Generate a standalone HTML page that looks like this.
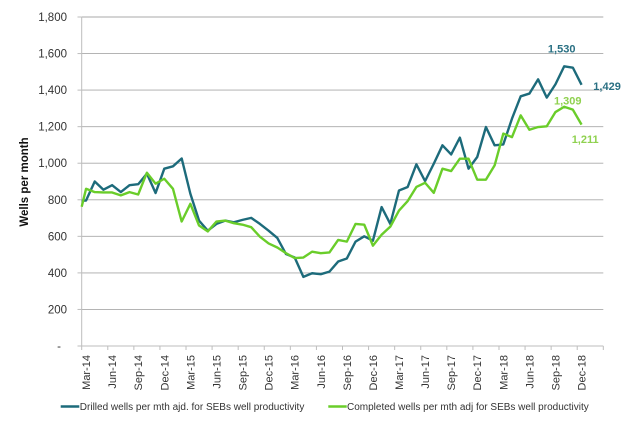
<!DOCTYPE html>
<html><head><meta charset="utf-8"><style>
html,body{margin:0;padding:0;background:#fff;}
svg{display:block;font-family:"Liberation Sans",Arial,sans-serif;}
</style></head><body>
<svg width="641" height="432" viewBox="0 0 641 432" xmlns="http://www.w3.org/2000/svg">
<rect x="0" y="0" width="641" height="432" fill="#fff"/>
<g stroke="#a9a9a9" stroke-width="0.9">
<line x1="81.7" x2="603.3" y1="17" y2="17"/>
<line x1="81.7" x2="603.3" y1="53.56" y2="53.56"/>
<line x1="81.7" x2="603.3" y1="90.11" y2="90.11"/>
<line x1="81.7" x2="603.3" y1="126.67" y2="126.67"/>
<line x1="81.7" x2="603.3" y1="163.22" y2="163.22"/>
<line x1="81.7" x2="603.3" y1="199.78" y2="199.78"/>
<line x1="81.7" x2="603.3" y1="236.33" y2="236.33"/>
<line x1="81.7" x2="603.3" y1="272.89" y2="272.89"/>
<line x1="81.7" x2="603.3" y1="309.44" y2="309.44"/>
</g>
<g stroke="#bdbdbd" stroke-width="1">
<line x1="81.7" x2="81.7" y1="17" y2="346"/>
<line x1="81.7" x2="603.3" y1="346" y2="346"/>
<line x1="77.5" x2="81.7" y1="17" y2="17"/>
<line x1="77.5" x2="81.7" y1="53.56" y2="53.56"/>
<line x1="77.5" x2="81.7" y1="90.11" y2="90.11"/>
<line x1="77.5" x2="81.7" y1="126.67" y2="126.67"/>
<line x1="77.5" x2="81.7" y1="163.22" y2="163.22"/>
<line x1="77.5" x2="81.7" y1="199.78" y2="199.78"/>
<line x1="77.5" x2="81.7" y1="236.33" y2="236.33"/>
<line x1="77.5" x2="81.7" y1="272.89" y2="272.89"/>
<line x1="77.5" x2="81.7" y1="309.44" y2="309.44"/>
<line x1="77.5" x2="81.7" y1="346" y2="346"/>
<line x1="81.7" x2="81.7" y1="346" y2="350"/>
<line x1="107.78" x2="107.78" y1="346" y2="350"/>
<line x1="133.86" x2="133.86" y1="346" y2="350"/>
<line x1="159.94" x2="159.94" y1="346" y2="350"/>
<line x1="186.02" x2="186.02" y1="346" y2="350"/>
<line x1="212.1" x2="212.1" y1="346" y2="350"/>
<line x1="238.18" x2="238.18" y1="346" y2="350"/>
<line x1="264.26" x2="264.26" y1="346" y2="350"/>
<line x1="290.34" x2="290.34" y1="346" y2="350"/>
<line x1="316.42" x2="316.42" y1="346" y2="350"/>
<line x1="342.5" x2="342.5" y1="346" y2="350"/>
<line x1="368.58" x2="368.58" y1="346" y2="350"/>
<line x1="394.66" x2="394.66" y1="346" y2="350"/>
<line x1="420.74" x2="420.74" y1="346" y2="350"/>
<line x1="446.82" x2="446.82" y1="346" y2="350"/>
<line x1="472.9" x2="472.9" y1="346" y2="350"/>
<line x1="498.98" x2="498.98" y1="346" y2="350"/>
<line x1="525.06" x2="525.06" y1="346" y2="350"/>
<line x1="551.14" x2="551.14" y1="346" y2="350"/>
<line x1="577.22" x2="577.22" y1="346" y2="350"/>
<line x1="603.3" x2="603.3" y1="346" y2="350"/>
</g>
<g font-size="11.5" fill="#333" text-anchor="end">
<text x="67" y="21">1,800</text>
<text x="67" y="57.6">1,600</text>
<text x="67" y="94.1">1,400</text>
<text x="67" y="130.7">1,200</text>
<text x="67" y="167.2">1,000</text>
<text x="67" y="203.8">800</text>
<text x="67" y="240.3">600</text>
<text x="67" y="276.9">400</text>
<text x="67" y="313.4">200</text>
<text x="61" y="350">-</text>
</g>
<text transform="translate(28,182) rotate(-90)" text-anchor="middle" font-size="11.5" font-weight="bold" fill="#111">Wells per month</text>
<g font-size="11" fill="#333" text-anchor="end">
<text transform="translate(90.05,355) rotate(-90)">Mar-14</text>
<text transform="translate(116.1,355) rotate(-90)">Jun-14</text>
<text transform="translate(142.2,355) rotate(-90)">Sep-14</text>
<text transform="translate(168.3,355) rotate(-90)">Dec-14</text>
<text transform="translate(194.4,355) rotate(-90)">Mar-15</text>
<text transform="translate(220.4,355) rotate(-90)">Jun-15</text>
<text transform="translate(246.5,355) rotate(-90)">Sep-15</text>
<text transform="translate(272.6,355) rotate(-90)">Dec-15</text>
<text transform="translate(298.7,355) rotate(-90)">Mar-16</text>
<text transform="translate(324.8,355) rotate(-90)">Jun-16</text>
<text transform="translate(350.8,355) rotate(-90)">Sep-16</text>
<text transform="translate(376.9,355) rotate(-90)">Dec-16</text>
<text transform="translate(403.0,355) rotate(-90)">Mar-17</text>
<text transform="translate(429.1,355) rotate(-90)">Jun-17</text>
<text transform="translate(455.2,355) rotate(-90)">Sep-17</text>
<text transform="translate(481.2,355) rotate(-90)">Dec-17</text>
<text transform="translate(507.3,355) rotate(-90)">Mar-18</text>
<text transform="translate(533.4,355) rotate(-90)">Jun-18</text>
<text transform="translate(559.5,355) rotate(-90)">Sep-18</text>
<text transform="translate(585.6,355) rotate(-90)">Dec-18</text>
</g>
<g transform="translate(86.05,346) scale(8.693,-0.18278)" fill="none" stroke-linejoin="round" stroke-linecap="butt">
<polyline vector-effect="non-scaling-stroke" stroke="#1d6b7b" stroke-width="2.4" points="-0.5,795 0,796 1,900 2,855 3,880 4,842 5,880 6,885 7,943 8,837 9,970 10,983 11,1026 12,833 13,686 14,631 15,668 16,686 17,677 18,690 19,701 20,668 21,631 22,591 23,503 24,484 25,378 26,398 27,393 28,407 29,462 30,479 31,571 32,600 33,576 34,760 35,668 36,851 37,870 38,994 39,902 40,997 41,1098 42,1048 43,1140 44,970 45,1034 46,1198 47,1098 48,1103 49,1244 50,1366 51,1381 52,1459 53,1359 54,1432 55,1530 56,1523 57,1429"/>
<polyline vector-effect="non-scaling-stroke" stroke="#6acd2a" stroke-width="2.4" points="-0.5,762 0,860 1,842 2,840 3,840 4,824 5,842 6,829 7,948 8,888 9,915 10,860 11,681 12,778 13,659 14,627 15,681 16,686 17,672 18,664 19,650 20,598 21,561 22,539 23,508 24,481 25,484 26,516 27,508 28,512 29,580 30,571 31,668 32,664 33,549 34,609 35,653 36,741 37,793 38,870 39,893 40,838 41,970 42,957 43,1025 44,1025 45,910 46,910 47,988 48,1162 49,1143 50,1262 51,1183 52,1198 53,1202 54,1280 55,1309 56,1293 57,1211"/>
</g>
<g font-size="11" font-weight="bold">
<text x="561.7" y="52.5" text-anchor="middle" fill="#2a7083">1,530</text>
<text x="593.3" y="90" fill="#2a7083">1,429</text>
<text x="554" y="104.5" fill="#8fd14f">1,309</text>
<text x="571.7" y="143" fill="#8fd14f">1,211</text>
</g>
<line x1="60.7" x2="79.3" y1="406.5" y2="406.5" stroke="#1d6b7b" stroke-width="2.4"/>
<text x="79.8" y="410" font-size="10" fill="#333">Drilled wells per mth ajd. for SEBs well productivity</text>
<line x1="328.3" x2="346.7" y1="406.5" y2="406.5" stroke="#6acd2a" stroke-width="2.4"/>
<text x="347" y="410" font-size="10" fill="#333">Completed wells per mth adj for SEBs well productivity</text>
</svg>
</body></html>
